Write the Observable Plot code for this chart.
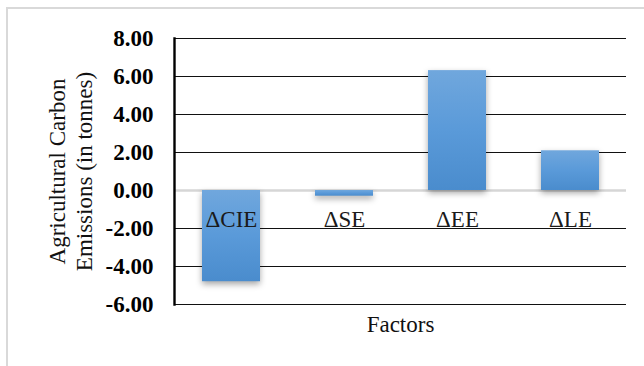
<!DOCTYPE html>
<html>
<head>
<meta charset="utf-8">
<script src="https://cdn.jsdelivr.net/npm/d3@7"></script>
<script src="https://cdn.jsdelivr.net/npm/@observablehq/plot@0.6"></script>
<style>
  html, body { margin: 0; padding: 0; background: #fff; }
  #wrap { position: relative; width: 644px; height: 366px; overflow: hidden; }
  #border { position: absolute; left: 6px; top: 7px; width: 700px; height: 400px;
            border-left: 2px solid #d9d9d9; border-top: 2px solid #d9d9d9; }
  #chart { position: absolute; left: 0; top: 0; }
  #chart svg text { font-family: "Liberation Serif", "Times New Roman", serif; }
</style>
</head>
<body>
<div id="wrap"><div id="border"></div><div id="chart"></div></div>
<script>
const factors = ["ΔCIE", "ΔSE", "ΔEE", "ΔLE"];
const values = [-4.80, -0.30, 6.31, 2.09];
const yTicks = [-6, -4, -2, 0, 2, 4, 6, 8];
const yTitle = "Agricultural Carbon\nEmissions (in tonnes)";
const xTitle = "Factors";

const data = factors.map((f, i) => ({factor: f, value: values[i]}));

const plot = Plot.plot({
  width: 644,
  height: 366,
  marginLeft: 174,
  marginRight: 18,
  marginTop: 38,
  marginBottom: 62,
  style: {background: "transparent", color: "#000"},
  x: {domain: factors, paddingInner: 0.487, paddingOuter: 0.2435, axis: null},
  y: {domain: [-6, 8], axis: null},
  marks: [
    Plot.ruleY(yTicks.filter(d => d !== 0), {stroke: "#111", strokeWidth: 1.2}),
    Plot.ruleY([0], {stroke: "#d6d6d6", strokeWidth: 2.5}),
    Plot.barY(data, {x: "factor", y: "value", fill: "url(#barGrad)"}),
    Plot.axisY({ticks: yTicks, tickSize: 0, tickPadding: 21, tickFormat: d => d.toFixed(2),
                fontSize: 23, fontWeight: "bold", label: null}),
    Plot.frame({anchor: "left", stroke: "#000", strokeWidth: 2.4}),
    Plot.text(data, {x: "factor", y: 0, text: "factor", dy: 29, fontSize: 23, fill: "#1a1a1a",
                     lineAnchor: "middle"}),
    Plot.text([xTitle], {frameAnchor: "bottom", dy: 20, fontSize: 23, fill: "#111",
                         lineAnchor: "middle", textAnchor: "middle"}),
    Plot.text([yTitle], {frameAnchor: "left", dx: -105, rotate: -90, fontSize: 23, fill: "#111",
                         textAnchor: "middle", lineAnchor: "middle", lineHeight: 1.17})
  ]
});

const svgNS = "http://www.w3.org/2000/svg";
const defs = document.createElementNS(svgNS, "defs");
defs.innerHTML = `
  <linearGradient id="barGrad" x1="0" y1="0" x2="0" y2="1">
    <stop offset="0" stop-color="#70a7dd"/>
    <stop offset="0.5" stop-color="#5a9ad9"/>
    <stop offset="1" stop-color="#4a8ccd"/>
  </linearGradient>`;
plot.insertBefore(defs, plot.firstChild);
const bars = plot.querySelector('g[aria-label="bar"]');
if (bars) bars.style.filter = "drop-shadow(0px 3px 3px rgba(0,0,0,0.35))";
document.getElementById("chart").appendChild(plot);
</script>
</body>
</html>
